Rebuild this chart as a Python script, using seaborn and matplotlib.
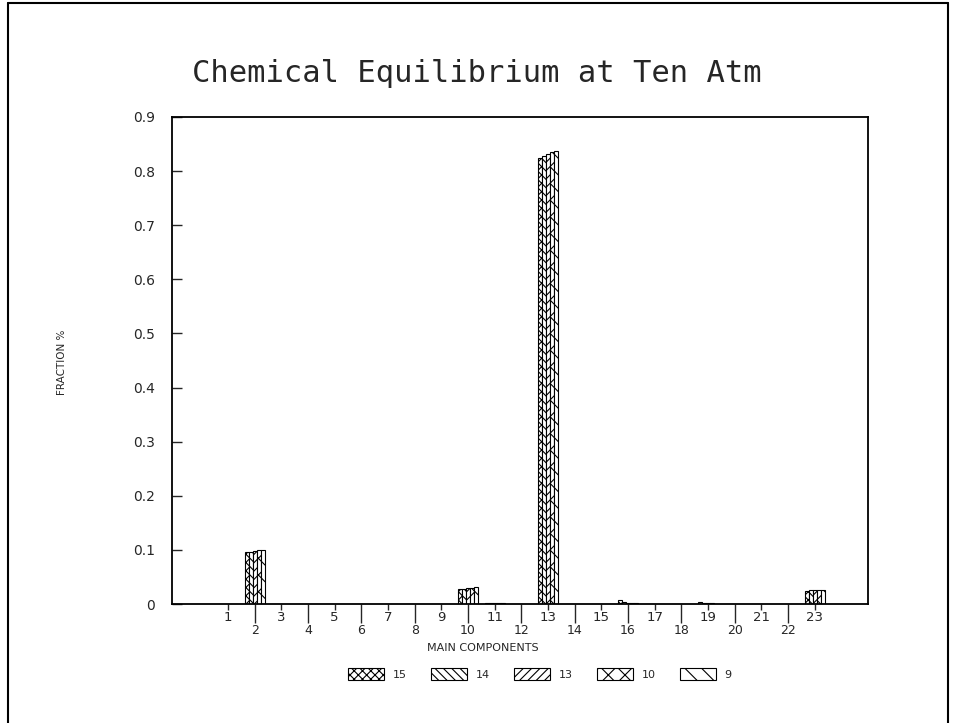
import matplotlib
matplotlib.use("Agg")
import matplotlib.pyplot as plt
import seaborn as sns
import pandas as pd
import numpy as np
from matplotlib.patches import Patch
from matplotlib.lines import Line2D

# ---- data ----
components = [str(i) for i in range(1, 24)]
series_names = ["15", "14", "13", "10", "9"]
hatches = ["xxxx", "\\\\\\\\", "////", "xx", "\\\\"]

s15 = [0, 0.096, 0, 0, 0, 0, 0, 0, 0, 0.027, 0.001, 0, 0.825, 0, 0, 0.008, 0, 0, 0.003, 0, 0, 0, 0.024]
s14 = [0, 0.097, 0, 0, 0, 0, 0, 0, 0, 0.028, 0.001, 0, 0.828, 0, 0, 0.004, 0, 0, 0.002, 0, 0, 0, 0.025]
s13 = [0, 0.098, 0, 0, 0, 0, 0, 0, 0, 0.029, 0.002, 0, 0.832, 0, 0, 0.002, 0, 0, 0.001, 0, 0, 0, 0.025]
s10 = [0, 0.099, 0, 0, 0, 0, 0, 0, 0, 0.030, 0.002, 0, 0.835, 0, 0, 0.001, 0, 0, 0.001, 0, 0, 0, 0.026]
s9  = [0, 0.100, 0, 0, 0, 0, 0, 0, 0, 0.031, 0.002, 0, 0.838, 0, 0, 0.001, 0, 0, 0.000, 0, 0, 0, 0.026]
series_values = [s15, s14, s13, s10, s9]

yticks = [0, 0.1, 0.2, 0.3, 0.4, 0.5, 0.6, 0.7, 0.8, 0.9]
ytick_labels = ["0", "0.1", "0.2", "0.3", "0.4", "0.5", "0.6", "0.7", "0.8", "0.9"]

title = "Chemical Equilibrium at Ten Atm"
xlabel = "MAIN COMPONENTS"
ylabel = "FRACTION %"

rows = []
for name, vals in zip(series_names, series_values):
    for c, v in zip(components, vals):
        rows.append({"component": c, "series": name, "value": v})
df = pd.DataFrame(rows)

# ---- figure ----
sns.set_style("white")
plt.rcParams["font.family"] = ["DejaVu Sans"]
plt.rcParams["hatch.linewidth"] = 0.8

fig = plt.figure(figsize=(9.54, 7.23), dpi=100)
ax = fig.add_axes([172 / 954, 1 - 604 / 723, (868 - 172) / 954, (604 - 117) / 723])

palette = {s: "white" for s in series_names}
sns.barplot(data=df, x="component", y="value", hue="series", order=components,
            hue_order=series_names, palette=palette, width=0.75, ax=ax,
            edgecolor="black", linewidth=0.8, legend=False, errorbar=None)

for cont, h in zip(ax.containers, hatches):
    for bar in cont:
        bar.set_hatch(h)
        bar.set_edgecolor("black")

ax.set_ylim(0, 0.9)
ax.set_xlim(-2.1, 24.0)
ax.set_yticks(yticks)
ax.set_yticklabels(ytick_labels, fontsize=10)
ax.tick_params(axis="y", direction="in", length=7, width=1.0, pad=12, left=True)

idx = np.arange(len(components))
even_idx = [i for i in idx if (i + 1) % 2 == 0]
odd_idx = [i for i in idx if (i + 1) % 2 == 1]
ax.set_xticks(even_idx)
ax.set_xticklabels([components[i] for i in even_idx], fontsize=9)
ax.set_xticks(odd_idx, minor=True)
ax.set_xticklabels([components[i] for i in odd_idx], minor=True, fontsize=9.5)
ax.tick_params(axis="x", which="major", direction="out", length=14, width=1.0, pad=0.5, bottom=True)
ax.tick_params(axis="x", which="minor", direction="out", length=4, width=1.0, pad=1, bottom=True)
ax.set_xlabel("")
ax.set_ylabel("")

for sp in ax.spines.values():
    sp.set_visible(True)
    sp.set_color("black")
    sp.set_linewidth(1.3)

fig.text(477 / 954, 1 - 73 / 723, title, ha="center", va="center",
         fontsize=22, family="DejaVu Sans Mono")
fig.text(483 / 954, 1 - 648 / 723, xlabel, ha="center", va="center", fontsize=8)
fig.text(62 / 954, 1 - 362 / 723, ylabel, ha="center", va="center", rotation=90, fontsize=7.5)

handles = [Patch(facecolor="white", edgecolor="black", hatch=h, linewidth=0.8)
           for h in hatches]
fig.legend(handles, series_names, loc="center", bbox_to_anchor=(540 / 954, 1 - 674 / 723),
           ncol=5, frameon=False, fontsize=8, handlelength=3.2, handleheight=1.3,
           columnspacing=2.2, handletextpad=0.8)

# figure frame
fig.add_artist(Line2D([8 / 954, 8 / 954], [0, 1 - 3 / 723], transform=fig.transFigure, color="black", lw=1.5))
fig.add_artist(Line2D([8 / 954, 948 / 954], [1 - 3 / 723, 1 - 3 / 723], transform=fig.transFigure, color="black", lw=1.5))
fig.add_artist(Line2D([948 / 954, 948 / 954], [0, 1 - 3 / 723], transform=fig.transFigure, color="black", lw=1.5))

fig.savefig("out.png", dpi=100)
